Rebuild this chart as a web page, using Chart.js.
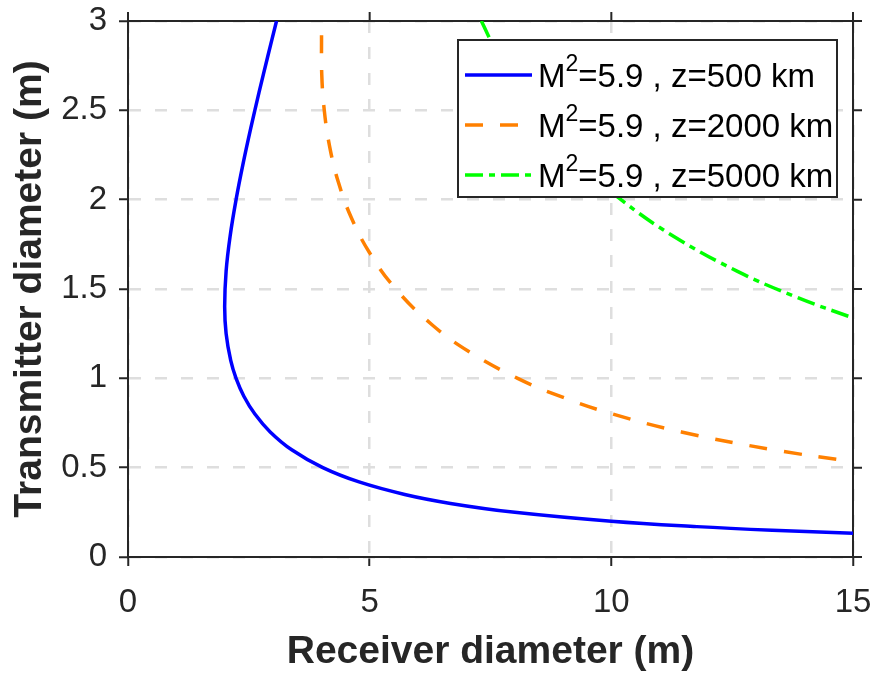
<!DOCTYPE html>
<html>
<head>
<meta charset="utf-8">
<script src="https://cdn.jsdelivr.net/npm/chart.js@4.4.1/dist/chart.umd.min.js"></script>
<style>
  html, body { margin: 0; padding: 0; background: #fff; }
  #wrap { width: 876px; height: 673px; }
</style>
</head>
<body>
<div id="wrap"><canvas id="chart" width="876" height="673"></canvas></div>
<script>
// ---- data (curve points, x = receiver, y = transmitter) ----
const seriesLabels = ['M²=5.9 , z=500 km', 'M²=5.9 , z=2000 km', 'M²=5.9 , z=5000 km'];

const blueX = [3.073, 2.890, 2.711, 2.540, 2.380, 2.236, 2.115, 2.030, 2.000, 2.030, 2.125, 2.236, 2.397, 2.625, 2.942, 3.387, 4.031, 4.780, 5.725, 6.673, 8.004, 10.00, 11.77, 13.33, 15.00];
const blueY = [3.00, 2.80, 2.60, 2.40, 2.20, 2.00, 1.80, 1.60, 1.40, 1.25, 1.10, 1.00, 0.90, 0.80, 0.70, 0.60, 0.50, 0.42, 0.35, 0.30, 0.25, 0.20, 0.17, 0.15, 0.1333];

const orangeX = [4.004, 4.009, 4.061, 4.170, 4.350, 4.619, 5.004, 5.540, 6.290, 7.051, 8.062, 8.934, 10.03, 11.45, 13.35, 15.00];
const orangeY = [2.92, 2.70, 2.50, 2.30, 2.10, 1.90, 1.70, 1.50, 1.30, 1.15, 1.00, 0.90, 0.80, 0.70, 0.60, 0.534];

const greenX = [7.311, 7.672, 8.120, 8.672, 9.353, 10.20, 11.26, 12.60, 13.87, 15.00];
const greenY = [3.00, 2.80, 2.60, 2.40, 2.20, 2.00, 1.80, 1.60, 1.45, 1.338];

const xTicks = [0, 5, 10, 15];
const yTicks = [0, 0.5, 1, 1.5, 2, 2.5, 3];

// ---- styling ----
const AXIS_COLOR = '#262626';
const GRID_COLOR = '#dedede';
const TICK_LEN = 9;
const FONT = '"Liberation Sans", Arial, Helvetica, sans-serif';

const styles = [
    { color: '#0000ff', dash: [] },
    { color: '#ff8000', dash: [18, 17] },
    { color: '#00ff00', dash: [18, 6, 6, 6] }
];

function pairs(xs, ys) {
    return xs.map((x, i) => ({ x: x, y: ys[i] }));
}

// top + right box lines with outward ticks (like MATLAB "box on")
const framePlugin = {
    id: 'frame',
    beforeDatasetsDraw(chart) {
        const { ctx, chartArea: a, scales } = chart;
        ctx.save();
        ctx.strokeStyle = AXIS_COLOR;
        ctx.lineWidth = 2;
        ctx.beginPath();
        ctx.moveTo(a.left, a.top);
        ctx.lineTo(a.right, a.top);
        ctx.lineTo(a.right, a.bottom);
        xTicks.forEach(v => {
            const px = scales.x.getPixelForValue(v);
            ctx.moveTo(px, a.top);
            ctx.lineTo(px, a.top - TICK_LEN);
        });
        yTicks.forEach(v => {
            const py = scales.y.getPixelForValue(v);
            ctx.moveTo(a.right, py);
            ctx.lineTo(a.right + TICK_LEN, py);
        });
        ctx.stroke();
        ctx.restore();
    }
};

// boxed legend with superscript, drawn on top of the curves
const legendPlugin = {
    id: 'boxLegend',
    afterDatasetsDraw(chart) {
        const ctx = chart.ctx;
        const box = { x: 458, y: 40, w: 379, h: 157 };
        ctx.save();
        ctx.fillStyle = '#fff';
        ctx.fillRect(box.x, box.y, box.w, box.h);
        ctx.strokeStyle = AXIS_COLOR;
        ctx.lineWidth = 2;
        ctx.strokeRect(box.x, box.y, box.w, box.h);

        chart.data.datasets.forEach((ds, i) => {
            const cy = 75 + i * 50;
            ctx.beginPath();
            ctx.strokeStyle = ds.borderColor;
            ctx.lineWidth = 3.5;
            ctx.setLineDash(ds.borderDash || []);
            ctx.moveTo(465, cy);
            ctx.lineTo(532, cy);
            ctx.stroke();
            ctx.setLineDash([]);

            const parts = ds.label.split('²');
            let x = 538;
            const base = cy + 12;
            ctx.fillStyle = '#000';
            ctx.textBaseline = 'alphabetic';
            ctx.textAlign = 'left';
            ctx.font = '33px ' + FONT;
            ctx.fillText(parts[0], x, base);
            x += ctx.measureText(parts[0]).width;
            ctx.font = '23px ' + FONT;
            ctx.fillText('2', x, base - 16);
            x += ctx.measureText('2').width;
            ctx.font = '33px ' + FONT;
            ctx.fillText(parts[1], x, base);
        });
        ctx.restore();
    }
};

function fixScale(size, key) {
    return function (scale) {
        scale[key] = size;
        scale.paddingLeft = 0;
        scale.paddingRight = 0;
        scale.paddingTop = 0;
        scale.paddingBottom = 0;
    };
}

const tickFont = { family: FONT, size: 33 };
const titleFont = { family: FONT, size: 39, weight: 'bold' };

new Chart(document.getElementById('chart'), {
    type: 'scatter',
    data: {
        datasets: [
            { label: seriesLabels[0], data: pairs(blueX, blueY) },
            { label: seriesLabels[1], data: pairs(orangeX, orangeY) },
            { label: seriesLabels[2], data: pairs(greenX, greenY) }
        ].map((d, i) => Object.assign(d, {
            showLine: true,
            borderColor: styles[i].color,
            backgroundColor: styles[i].color,
            borderDash: styles[i].dash,
            borderWidth: 3.5,
            pointRadius: 0,
            tension: 0.4,
            fill: false
        }))
    },
    options: {
        responsive: false,
        animation: false,
        devicePixelRatio: 1,
        layout: { padding: { left: 0, top: 21, right: 23, bottom: 0 } },
        plugins: { legend: { display: false }, tooltip: { enabled: false } },
        scales: {
            x: {
                type: 'linear',
                min: 0, max: 15,
                afterBuildTicks: s => { s.ticks = xTicks.map(v => ({ value: v })); },
                afterFit: fixScale(116, 'height'),
                ticks: { font: tickFont, color: AXIS_COLOR, padding: 17, maxRotation: 0, callback: v => String(v) },
                grid: { color: GRID_COLOR, lineWidth: 2.5, tickColor: AXIS_COLOR, tickWidth: 2, tickLength: TICK_LEN },
                border: { color: AXIS_COLOR, width: 2, dash: [12, 14] },
                title: { display: true, text: 'Receiver diameter (m)', font: titleFont, color: AXIS_COLOR, padding: { top: 0, bottom: -3 } }
            },
            y: {
                type: 'linear',
                min: 0, max: 3,
                afterBuildTicks: s => { s.ticks = yTicks.map(v => ({ value: v })); },
                afterFit: fixScale(128, 'width'),
                ticks: { font: tickFont, color: AXIS_COLOR, padding: 12, callback: v => String(v) },
                grid: { color: GRID_COLOR, lineWidth: 2.5, tickColor: AXIS_COLOR, tickWidth: 2, tickLength: TICK_LEN },
                border: { color: AXIS_COLOR, width: 2, dash: [12, 14] },
                title: { display: true, text: 'Transmitter diameter (m)', font: titleFont, color: AXIS_COLOR, padding: { top: 7, bottom: 0 } }
            }
        }
    },
    plugins: [framePlugin, legendPlugin]
});
</script>
</body>
</html>
